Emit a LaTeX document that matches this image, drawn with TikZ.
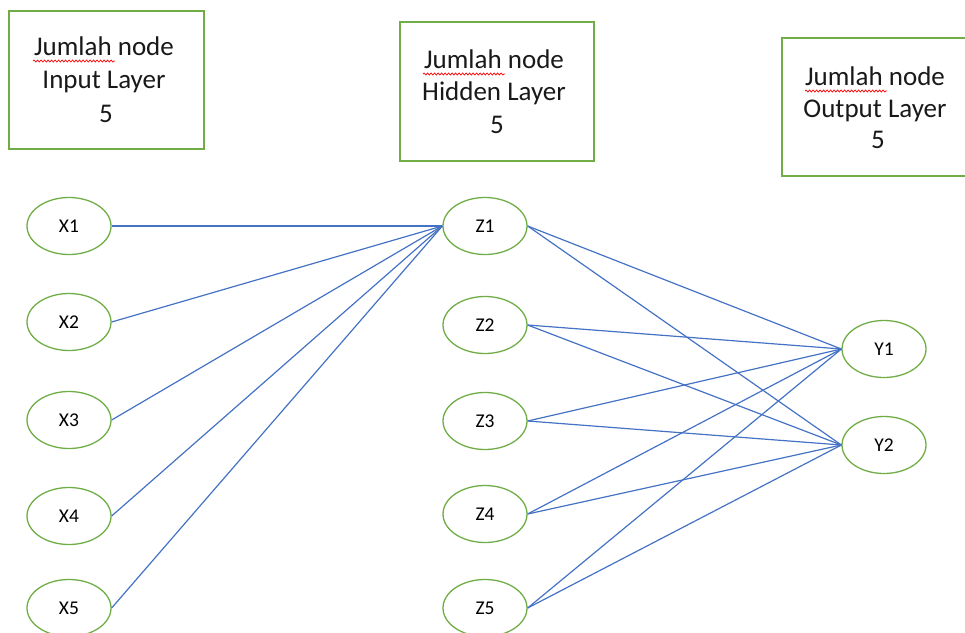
\documentclass[tikz,border=0pt]{standalone}
\usepackage{fontspec}
\setmainfont{Carlito}
\usetikzlibrary{shapes.geometric,decorations.pathmorphing}
\definecolor{boxgreen}{HTML}{70AD47}
\definecolor{linkblue}{HTML}{4472C4}
\begin{document}
\begin{tikzpicture}[x=1pt,y=-1pt,
  infobox/.style={draw=boxgreen,line width=1.6pt},
  boxtext/.style={anchor=base,inner sep=0pt,text=black!90,font=\fontsize{27}{32}\selectfont},
  neuron/.style={ellipse,draw=boxgreen,line width=1.3pt,minimum width=84pt,minimum height=57pt,inner sep=0pt,font=\fontsize{19.5}{22}\selectfont},
  link/.style={draw=linkblue,line width=1.2pt},
  squiggle/.style={draw=red,line width=0.7pt,decorate,decoration={snake,segment length=3.5pt,amplitude=1pt}}]
\useasboundingbox (0,0) rectangle (965,632);
\clip (0,0) rectangle (965,632);
% boxes
\draw[infobox] (9,11) rectangle (204,149);
\draw[infobox] (400,22) rectangle (594,161);
\draw[infobox] (782,38) rectangle (975,176);
\node[boxtext] (t1a) at (104,55) {Jumlah node};
\node[boxtext] (t1b) at (104,88) {Input Layer};
\node[boxtext] (t1c) at (106,122) {5};
\node[boxtext] (t2a) at (494,68) {Jumlah node};
\node[boxtext] (t2b) at (494,100) {Hidden Layer};
\node[boxtext] (t2c) at (497,133) {5};
\node[boxtext] (t3a) at (875,85) {Jumlah node};
\node[boxtext] (t3b) at (875,117) {Output Layer};
\node[boxtext] (t3c) at (878,148) {5};
\draw[squiggle] (33,61) -- (115,61);
\draw[squiggle] (423,74) -- (505,74);
\draw[squiggle] (805,91) -- (887,91);
% neurons
\node[neuron] (X1) at (69,226) {X1};
\node[neuron] (X2) at (69,322) {X2};
\node[neuron] (X3) at (69,420) {X3};
\node[neuron] (X4) at (69,516) {X4};
\node[neuron] (X5) at (69,608) {X5};
\node[neuron] (Z1) at (485,226) {Z1};
\node[neuron] (Z2) at (485,325) {Z2};
\node[neuron] (Z3) at (485,421) {Z3};
\node[neuron] (Z4) at (485,514) {Z4};
\node[neuron] (Z5) at (485,608) {Z5};
\node[neuron] (Y1) at (884,349) {Y1};
\node[neuron] (Y2) at (884,445) {Y2};
% links
\foreach \i in {1,...,5} {\draw[link] (X\i.east) -- (Z1.west);}
\foreach \i in {1,...,5} {
  \draw[link] (Z\i.east) -- (Y1.west);
  \draw[link] (Z\i.east) -- (Y2.west);
}
\end{tikzpicture}
\end{document}
